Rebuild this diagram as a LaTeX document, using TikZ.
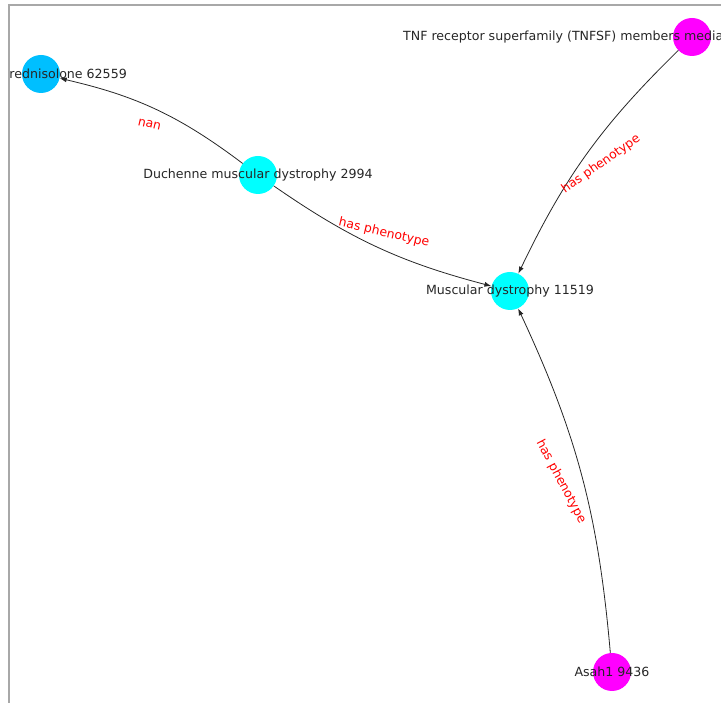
\documentclass[tikz,border=0pt]{standalone}
\usepackage{fontspec}
\setmainfont{DejaVu Sans}
\usepackage{tikz}
\usetikzlibrary{arrows.meta, positioning, calc}
\definecolor{NodeSky}{HTML}{00BFFF}
\definecolor{NodeCyan}{HTML}{00FFFF}
\definecolor{NodeMagenta}{HTML}{FF00FF}
\definecolor{FrameGray}{HTML}{A8A8A8}

\begin{document}
\begin{tikzpicture}[x=1pt, y=1pt,
  ent/.style={circle, minimum size=38pt, inner sep=0pt},
  lbl/.style={font=\fontsize{12.6}{15}\selectfont, text=black!85, inner sep=0pt},
  rel/.style={font=\fontsize{12.4}{15}\selectfont, text=red, inner sep=0pt},
  link/.style={-{Latex[length=7pt,width=5pt]}, draw=black!85, line width=0.8pt}
]
  \useasboundingbox (0,0) rectangle (721,703);
  \draw[FrameGray, line width=1.6pt] (9,-5) -- (9,698) -- (730,698);

  % graph nodes
  \node[ent, fill=NodeSky] (pred) at (41,629) {};
  \node[ent, fill=NodeCyan] (dmd) at (258,528) {};
  \node[ent, fill=NodeCyan] (md) at (510,412) {};
  \node[ent, fill=NodeMagenta] (tnf) at (692,666) {};
  \node[ent, fill=NodeMagenta] (asah) at (612,31) {};

  % edges
  \draw[link] (dmd) to[bend right=12] (pred);
  \draw[link] (dmd) to[bend right=10] (md);
  \draw[link] (tnf) to[bend right=10] (md);
  \draw[link] (asah) to[bend right=10] (md);

  % node labels
  \node[lbl, anchor=east] (pred-lbl) at (127,629) {rednisolone 62559};
  \node[lbl] (dmd-lbl) at (dmd) {Duchenne muscular dystrophy 2994};
  \node[lbl] (md-lbl) at (md) {Muscular dystrophy 11519};
  \node[lbl, anchor=west] (tnf-lbl) at (403,666) {TNF receptor superfamily (TNFSF) members media};
  \node[lbl] (asah-lbl) at (asah) {Asah1 9436};

  % edge labels
  \node[rel, rotate=-13] (nan-lbl) at ($(dmd)!0.5!(pred)$) {nan};
  \node[rel, rotate=-13] (dmd-md-lbl) at ($(dmd)!0.5!(md)$) {has phenotype};
  \node[rel, rotate=35] (tnf-md-lbl) at ($(tnf)!0.5!(md)$) {has phenotype};
  \node[rel, rotate=-62] (asah-md-lbl) at ($(asah)!0.5!(md)$) {has phenotype};
\end{tikzpicture}
\end{document}
